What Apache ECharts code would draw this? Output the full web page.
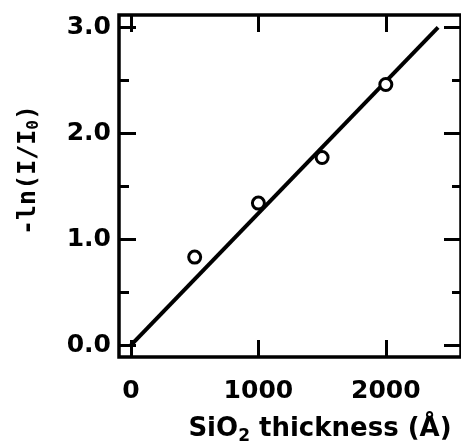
<!DOCTYPE html>
<html>
<head>
<meta charset="utf-8">
<script src="https://cdn.jsdelivr.net/npm/echarts@6/dist/echarts.min.js"></script>
<style>
html,body{margin:0;padding:0;background:#fff;}
#chart{width:461px;height:447px;}
</style>
</head>
<body>
<div id="chart"></div>
<script>
// Data
const thickness = [500, 1000, 1500, 2000];          // SiO2 thickness (Å)
const lnRatio   = [0.83, 1.34, 1.77, 2.46];         // -ln(I/I0)
const fitX      = [0, 2410];                        // fitted line endpoints
const fitY      = [0.0, 3.0];
const xTicks    = [0, 1000, 2000];
const yTicks    = [0, 1, 2, 3];
const yMinor    = [0.5, 1.5, 2.5];

const chart = echarts.init(document.getElementById('chart'));
const black = '#000';
const tickFont = { fontFamily: 'DejaVu Sans', fontWeight: 'bold', fontSize: 25, color: black };

function xAxisDef(pos, showLabel) {
  return {
    type: 'value', position: pos, min: -94, max: 2590,
    axisLine: { show: false, onZero: false },
    splitLine: { show: false },
    axisTick: { show: true, inside: true, length: 17, customValues: xTicks, lineStyle: { color: black, width: 3 } },
    axisLabel: showLabel ? Object.assign({ show: true, margin: 22, customValues: xTicks, formatter: v => String(v) }, tickFont) : { show: false }
  };
}
function yAxisDef(pos, vals, len, showLabel) {
  return {
    type: 'value', position: pos, min: -0.113, max: 3.116, offset: 0,
    axisLine: { show: false, onZero: false },
    splitLine: { show: false },
    axisTick: { show: true, inside: true, length: len, customValues: vals, lineStyle: { color: black, width: 3 } },
    axisLabel: showLabel ? Object.assign({ show: true, margin: 8, customValues: vals, formatter: v => v.toFixed(1) }, tickFont) : { show: false }
  };
}

chart.setOption({
  animation: false,
  backgroundColor: '#fff',
  grid: { left: 119, top: 15, width: 343, height: 342, show: true, borderColor: black, borderWidth: 3.5, backgroundColor: 'transparent' },
  xAxis: [ xAxisDef('bottom', true), xAxisDef('top', false) ],
  yAxis: [
    yAxisDef('left', yTicks, 17, true),
    yAxisDef('left', yMinor, 10, false),
    yAxisDef('right', yTicks, 17, false),
    yAxisDef('right', yMinor, 9, false)
  ],
  series: [
    {
      type: 'line',
      data: fitX.map((x, i) => [x, fitY[i]]),
      showSymbol: false,
      lineStyle: { color: black, width: 4 },
      z: 2
    },
    {
      type: 'scatter',
      data: thickness.map((x, i) => [x, lnRatio[i]]),
      symbol: 'circle',
      symbolSize: 12,
      itemStyle: { color: '#fff', borderColor: black, borderWidth: 3, opacity: 1 },
      z: 3
    }
  ],
  graphic: [
    {
      type: 'text', x: 320, y: 429,
      style: {
        text: '{a|SiO}{s|2}{a| thickness (Å)}',
        align: 'center', verticalAlign: 'middle',
        rich: {
          a: { fontFamily: 'DejaVu Sans', fontWeight: 'bold', fontSize: 26, fill: black },
          s: { fontFamily: 'DejaVu Sans', fontWeight: 'bold', fontSize: 17, fill: black, padding: [16, 0, 0, 0] }
        }
      }
    },
    {
      type: 'text', x: 28, y: 170, rotation: Math.PI / 2,
      style: {
        text: '{a|-ln(I/I}{s|0}{a|)}',
        align: 'center', verticalAlign: 'middle',
        rich: {
          a: { fontFamily: 'DejaVu Sans Mono', fontWeight: 'bold', fontSize: 25, fill: black },
          s: { fontFamily: 'DejaVu Sans Mono', fontWeight: 'bold', fontSize: 16, fill: black, padding: [12, 0, 0, 0] }
        }
      }
    }
  ]
});
</script>
</body>
</html>
